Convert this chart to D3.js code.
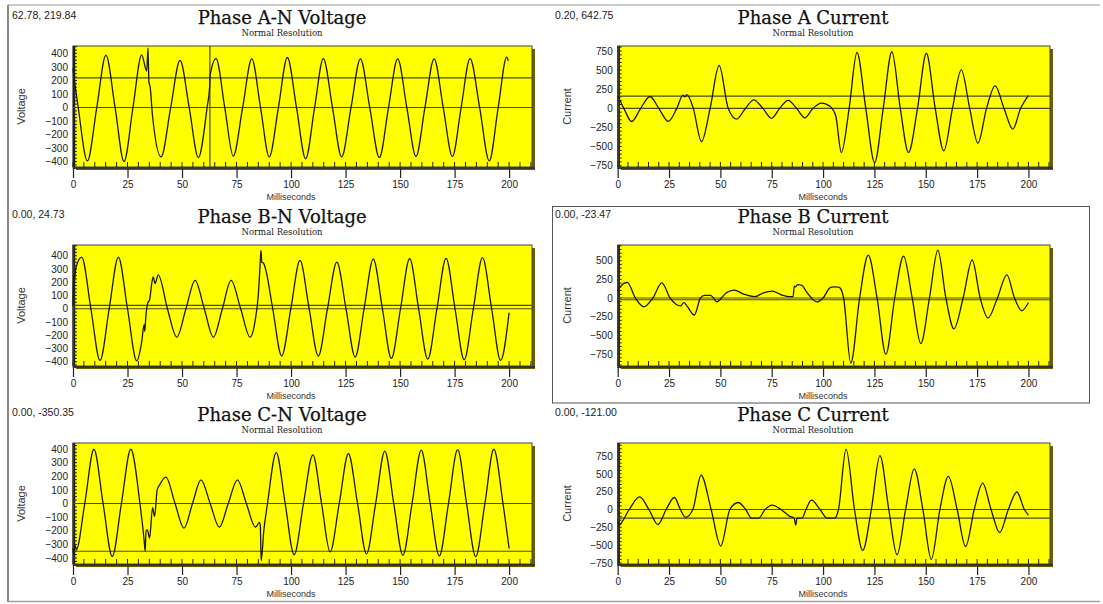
<!DOCTYPE html>
<html><head><meta charset="utf-8">
<script src="https://cdn.jsdelivr.net/npm/d3@7"></script>
<style>body{margin:0;background:#fff}svg{display:block}</style>
</head><body>
<svg id="c" width="1103" height="604"></svg>
<script>
// ---------- data ----------
const timeTicks = [0, 25, 50, 75, 100, 125, 150, 175, 200];
const voltageTicks = [-400, -300, -200, -100, 0, 100, 200, 300, 400];
const currentTicks = [-750, -500, -250, 0, 250, 500, 750];
const timeDomain = [0, 210.5];

const panelTitles = ["Phase A-N Voltage", "Phase A Current", "Phase B-N Voltage", "Phase B Current", "Phase C-N Voltage", "Phase C Current"];
const cursorLabels = ["62.78, 219.84", "0.20, 642.75", "0.00, 24.73", "0.00, -23.47", "0.00, -350.35", "0.00, -121.00"];
const cursorTimes = [62.78, 0.20, 0.00, 0.00, 0.00, 0.00];
const cursorLevels = [219.84, 160, 24.73, -23.47, -350.35, -121.00];
const yDomains = [[-440, 455], [-767, 815], [-432, 481], [-911, 710], [-444, 444], [-764, 932]];

const phaseANVoltage = [[0,290],[0.4,235],[2.4,0],[6.6,-395],[10.9,0],[15.1,388],[19.3,0],[23.4,-400],[27.5,0],[31.5,390],[33.8,270],[34.4,440],[34.8,190],[35.4,150],[36.4,-50],[40.4,-365],[44.8,0],[49.1,348],[53.3,0],[57.5,-370],[61.5,0],[62.7,160],[62.9,240],[65.6,362],[69.6,0],[73.5,-360],[77.8,0],[82.0,360],[86.0,0],[90.0,-365],[94.2,0],[98.3,370],[102.5,0],[106.7,-380],[110.8,0],[114.8,362],[119.0,0],[123.2,-365],[127.5,0],[131.8,360],[136.1,0],[140.5,-370],[144.7,0],[148.9,360],[153.1,0],[157.3,-362],[161.4,0],[165.6,360],[169.8,0],[174.0,-362],[178.0,0],[182.1,362],[186.5,0],[190.9,-395],[195.0,0],[198.9,372],[199.6,345]];
const phaseACurrent = [[0,165],[3.0,0],[6.8,-172],[11.2,0],[15.7,155],[20.0,0],[24.6,-170],[28.8,0],[31.8,172],[32.8,150],[33.7,178],[36.8,0],[40.8,-435],[45.0,0],[49.4,560],[53.8,0],[57.9,-141],[62.2,0],[66.3,111],[70.7,0],[74.9,-130],[78.9,0],[83.0,105],[87.1,0],[91.1,-125],[95.1,0],[99.2,68],[101.5,55],[104.0,10],[106.2,-100],[108.9,-578],[112.7,0],[116.5,730],[120.8,0],[125.1,-709],[129.3,0],[133.5,740],[137.6,0],[141.6,-578],[146.0,0],[150.3,720],[154.6,0],[158.8,-556],[163.0,0],[167.3,503],[171.4,0],[175.4,-455],[179.6,0],[183.8,294],[188.1,0],[192.4,-272],[196.2,0],[200,170]];
const phaseBNVoltage = [[0,20],[0.3,250],[0.6,200],[1.2,300],[4.0,390],[8.2,0],[12.4,-390],[16.6,0],[20.8,390],[25.0,0],[29.2,-393],[31.5,-250],[32.6,-120],[32.9,-170],[33.4,-60],[34.6,55],[35.0,60],[36.2,200],[36.8,240],[37.6,190],[39.1,255],[43.3,0],[47.6,-214],[51.8,0],[56.0,214],[60.2,0],[64.4,-214],[68.5,0],[72.5,214],[76.9,0],[81.2,-214],[83.5,-93],[85.0,108],[85.9,360],[86.2,440],[86.6,350],[87.3,345],[88.3,300],[91.6,0],[95.7,-357],[99.9,0],[104.1,365],[108.3,0],[112.5,-357],[116.7,0],[121.0,352],[125.2,0],[129.4,-365],[133.5,0],[137.7,375],[141.9,0],[146.0,-375],[150.2,0],[154.4,378],[158.5,0],[162.7,-380],[166.9,0],[171.1,380],[175.2,0],[179.4,-385],[183.6,0],[187.8,385],[192.0,0],[196.1,-390],[200,-30]];
const phaseBCurrent = [[0,90],[1.5,160],[4.6,210],[8.6,0],[12.7,-118],[17.1,0],[21.5,202],[25.5,0],[28.4,-83],[30.7,-105],[32.2,-61],[33.7,-105],[37.3,-228],[40.3,0],[42.2,35],[45.2,35],[46.6,0],[48.3,-53],[50.5,0],[52.9,70],[56.7,105],[61.5,50],[66.7,18],[71.0,70],[75.2,92],[80.0,40],[83.6,18],[85.4,18],[86.0,160],[86.6,150],[87.7,180],[89.7,170],[91.5,100],[94.3,0],[97.1,-53],[100.0,0],[103.5,140],[105.1,150],[107.4,145],[108.4,130],[110.0,0],[113.5,-873],[117.8,0],[122.0,575],[126.3,0],[130.6,-754],[134.9,0],[139.2,561],[143.4,0],[147.6,-610],[151.8,0],[155.9,640],[159.8,0],[163.7,-412],[168.2,0],[172.6,509],[176.5,0],[180.3,-268],[184.9,0],[189.5,311],[193.2,0],[196.8,-171],[200,-61]];
const phaseCNVoltage = [[0,-330],[0.4,-380],[0.8,-300],[1.5,-340],[5.4,0],[9.6,398],[13.8,0],[18.0,-389],[22.2,0],[26.5,398],[30.7,0],[32.6,-266],[33.1,-350],[33.5,-200],[34.1,-193],[35.1,-254],[36.5,-30],[37.4,-95],[38.6,100],[39.5,130],[42.6,194],[46.8,0],[50.9,-181],[54.8,0],[58.7,174],[62.9,0],[67.1,-174],[71.2,0],[75.4,174],[79.5,0],[83.7,-174],[85.5,-139],[85.9,-160],[86.3,-420],[87.5,-200],[89.2,0],[93.2,374],[97.3,0],[101.4,-376],[105.7,0],[110.0,357],[114.0,0],[117.9,-355],[122.1,0],[126.3,365],[130.5,0],[134.6,-370],[138.8,0],[143.0,385],[147.1,0],[151.3,-380],[155.5,0],[159.7,392],[163.8,0],[168.0,-385],[172.2,0],[176.4,395],[180.5,0],[184.7,-390],[188.9,0],[193.0,398],[197.2,0],[200,-330]];
const phaseCCurrent = [[0,-180],[0.8,-220],[1.5,-200],[5.6,0],[10.7,177],[15.2,0],[19.6,-210],[23.6,0],[27.6,168],[30.5,0],[33.0,-110],[36.6,0],[40.6,480],[45.5,0],[50.2,-513],[54.6,0],[58.7,98],[62.3,0],[65.2,-121],[68.6,-121],[71.8,0],[75.2,61],[79.5,0],[83.6,-93],[85.9,-121],[86.7,-219],[87.3,-121],[89.7,-121],[91.7,0],[94.3,130],[98.5,0],[102.0,-121],[105.8,-121],[107.5,0],[111.2,847],[115.3,0],[119.3,-574],[123.5,0],[127.7,755],[132.0,0],[136.0,-634],[140.2,0],[144.4,570],[148.6,0],[152.7,-700],[156.9,0],[161.0,463],[165.3,0],[169.4,-519],[173.6,0],[177.7,370],[181.8,0],[186.0,-324],[190.2,0],[194.4,245],[198.0,0],[200,-80]];

const series = [phaseANVoltage, phaseACurrent, phaseBNVoltage, phaseBCurrent, phaseCNVoltage, phaseCCurrent];

// ---------- drawing ----------
const svg = d3.select("#c");
const rowOffset = [0, 199, 397];
const colGeom = [
  {left: 73, right: 532, label: 12, title: 282, unitX: 25, unit: "Voltage", ticks: voltageTicks, minor: 25},
  {left: 617.7, right: 1050, label: 555, title: 813, unitX: 571, unit: "Current", ticks: currentTicks, minor: 50}
];

// outer frame
svg.append("line").attr("x1", 8).attr("x2", 1100).attr("y1", 5).attr("y2", 5).attr("stroke", "#b8b8b8").attr("stroke-width", 1.5);
svg.append("line").attr("x1", 8).attr("x2", 8).attr("y1", 5).attr("y2", 602).attr("stroke", "#8a8a8a").attr("stroke-width", 2);
svg.append("line").attr("x1", 8).attr("x2", 1100).attr("y1", 601.5).attr("y2", 601.5).attr("stroke", "#a0a0a0").attr("stroke-width", 1.5);
// selection box around Phase B Current
svg.append("rect").attr("x", 552.5).attr("y", 206.5).attr("width", 537).attr("height", 196.5)
  .attr("fill", "none").attr("stroke", "#555").attr("stroke-width", 1);

const sans = "'Liberation Sans', Arial, sans-serif";
const serif = "'DejaVu Serif', 'Liberation Serif', serif";

series.forEach((data, i) => {
  const row = Math.floor(i / 2), col = i % 2;
  const g = colGeom[col];
  const dy = rowOffset[row];
  const top = 46 + dy, bottom = 167 + dy;
  const x = d3.scaleLinear().domain(timeDomain).range([g.left, g.right]);
  const y = d3.scaleLinear().domain(yDomains[i]).range([bottom, top]);
  const p = svg.append("g");

  // texts
  p.append("text").attr("x", g.label).attr("y", 19 + dy).attr("font-family", sans).attr("font-size", 10.5)
    .attr("fill", "#222").text(cursorLabels[i]);
  p.append("text").attr("x", g.title).attr("y", 23.5 + dy).attr("text-anchor", "middle").attr("font-family", serif)
    .attr("font-size", 18).attr("fill", "#111").attr("stroke", "#111").attr("stroke-width", 0.25).text(panelTitles[i]);
  p.append("text").attr("x", g.title).attr("y", 36 + dy).attr("text-anchor", "middle").attr("font-family", serif)
    .attr("font-size", 8.5).attr("fill", "#222").text("Normal Resolution");
  p.append("text").attr("transform", `translate(${g.unitX},${(top + bottom) / 2}) rotate(-90)`).attr("text-anchor", "middle")
    .attr("font-family", sans).attr("font-size", 11).attr("fill", "#333").text(g.unit);
  p.append("text").attr("x", x(100)).attr("y", 200 + dy).attr("text-anchor", "middle").attr("font-family", sans)
    .attr("font-size", 9).attr("fill", "#333").text("Milliseconds");

  // plot background with shadow
  p.append("rect").attr("x", g.left + 3).attr("y", top + 3).attr("width", g.right - g.left).attr("height", bottom - top)
    .attr("fill", "#6b5f00");
  p.append("rect").attr("x", g.left).attr("y", top).attr("width", g.right - g.left).attr("height", bottom - top)
    .attr("fill", "#ffff00").attr("stroke", "#444").attr("stroke-width", 1);

  // y axis (only ticks inside the visible range)
  const dom = yDomains[i];
  const yAxis = d3.axisLeft(y).tickValues(g.ticks.filter(t => t >= dom[0] && t <= dom[1])).tickSize(0).tickPadding(5).tickFormat(d3.format("d"));
  const ya = p.append("g").attr("transform", `translate(${g.left},0)`).call(yAxis);
  ya.select(".domain").remove();
  ya.selectAll("text").attr("font-family", sans).attr("font-size", 10).attr("fill", "#222");
  const minorY = d3.range(Math.ceil(dom[0] / g.minor) * g.minor, dom[1], g.minor);
  p.append("g").selectAll("line").data(minorY).join("line")
    .attr("x1", g.left).attr("x2", g.left + 4).attr("y1", d => y(d)).attr("y2", d => y(d))
    .attr("stroke", "#222").attr("stroke-width", 1);
  p.append("line").attr("x1", g.left + 1).attr("x2", g.left + 1).attr("y1", top).attr("y2", bottom + 2)
    .attr("stroke", "#222").attr("stroke-width", 2.5);

  // x axis
  const xAxis = d3.axisBottom(x).tickValues(timeTicks).tickSize(10).tickPadding(3).tickFormat(d3.format("d"));
  const xa = p.append("g").attr("transform", `translate(0,${bottom + 1})`).call(xAxis);
  xa.select(".domain").remove();
  xa.selectAll("line").attr("stroke", "#222").attr("stroke-width", 1.2);
  xa.selectAll("text").attr("font-family", sans).attr("font-size", 10).attr("fill", "#222");
  const minorX = d3.range(0, timeDomain[1], 5);
  p.append("g").selectAll("line").data(minorX).join("line")
    .attr("x1", d => x(d)).attr("x2", d => x(d)).attr("y1", bottom).attr("y2", bottom - 5)
    .attr("stroke", "#222").attr("stroke-width", 1);
  p.append("line").attr("x1", g.left).attr("x2", g.right + 3).attr("y1", bottom + 1).attr("y2", bottom + 1)
    .attr("stroke", "#333").attr("stroke-width", 2);

  // zero line and cursor lines
  p.append("line").attr("x1", g.left).attr("x2", g.right).attr("y1", y(0)).attr("y2", y(0))
    .attr("stroke", "#4a4a28").attr("stroke-width", 1.2);
  p.append("line").attr("x1", g.left).attr("x2", g.right).attr("y1", y(cursorLevels[i])).attr("y2", y(cursorLevels[i]))
    .attr("stroke", "#4a4a28").attr("stroke-width", 1.2);
  p.append("line").attr("x1", x(cursorTimes[i])).attr("x2", x(cursorTimes[i])).attr("y1", top).attr("y2", bottom)
    .attr("stroke", "#4a4a28").attr("stroke-width", 1.2);

  // waveform
  const line = d3.line().x(d => x(d[0])).y(d => y(d[1])).curve(d3.curveMonotoneX);
  p.append("path").datum(data).attr("d", line).attr("fill", "none").attr("stroke", "#1a1a10").attr("stroke-width", 1.3);
});
</script>
</body></html>
